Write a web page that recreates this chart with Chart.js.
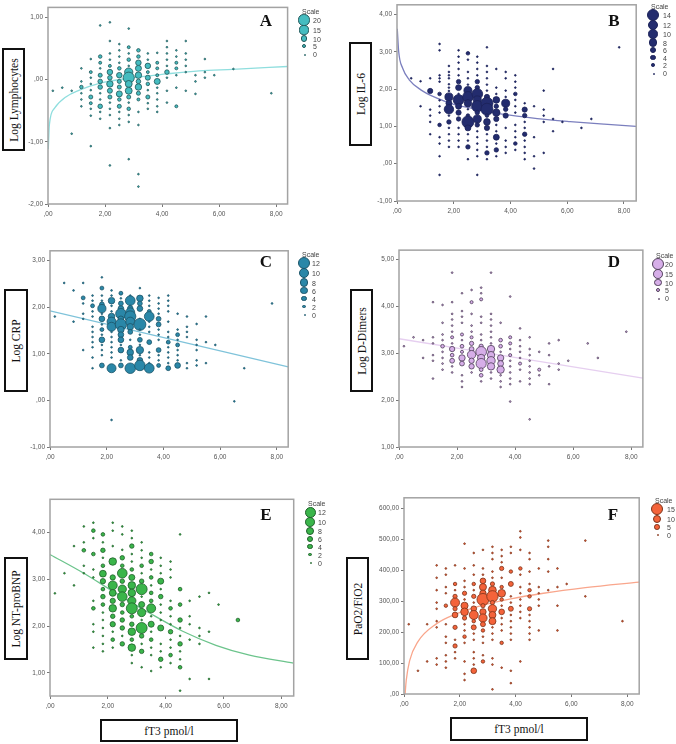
<!DOCTYPE html>
<html>
<head>
<meta charset="utf-8">
<title>fT3 scatter panels</title>
<script src="https://cdn.jsdelivr.net/npm/chart.js@4/dist/chart.umd.min.js"></script>
<style>
  html, body { margin: 0; padding: 0; background: #fff; }
  #page { position: relative; width: 676px; height: 744px; overflow: hidden; filter: blur(0.3px); }
  #page canvas { position: absolute; }
  .box { position: absolute; box-sizing: border-box; border: 2px solid #111; background: #fff; display: flex; align-items: center; justify-content: center; font: 11.5px "Liberation Serif", serif; color: #111; white-space: nowrap; }
  .box span.rot { transform: rotate(-90deg) scaleY(1.15); display: block; }
  .letter { position: absolute; font: bold 17px "Liberation Serif", serif; color: #111; transform: translate(-50%, -50%); }
  .lg { position: absolute; font: 7px "Liberation Sans", sans-serif; color: #444; transform: translateY(-50%); }
  .dot { position: absolute; border-radius: 50%; box-sizing: border-box; }
</style>
</head>
<body>
<div id="page"></div>
<script>
// every column: x first, then y values. a plain number is a single patient, [y, n] is n patients
var lymphoCols = [
  [0.17, -.18], [0.5, -.13], [0.83, -.18, -.87],
  [1.17, .18, -.03, [-.12,3], -.22, -.32, -.43],
  [1.5, .33, [.12,2], .03, -.07, -.17, [-.28,4], [-.38,2], -.47, -.58, -1.07],
  [1.83, .87, [.37,3], [.27,2], .18, [.07,4], [-.03,5], [-.12,5], -.22, -.32, [-.43,5], -.52, -.63],
  [2.17, .92, .62, .42, .32, [.22,2], [.12,7], [.03,5], [-.07,9], [-.18,6], [-.28,4], -.37, -.47, -.57, -.78, -1.38],
  [2.5, .57, .47, .37, .27, [.18,3], [.07,7], [-.03,4], [-.12,4], [-.23,8], [-.32,3], [-.43,4], -.52, -.63, -.73],
  [2.83, .82, [.52,2], .42, [.32,3], .22, [.12,13], [.03,20], [-.07,10], [-.18,10], [-.28,4], -.37, [-.47,3], -.57, -.68, -1.28],
  [3.17, [.47,3], [.37,3], [.27,7], [.18,8], [.07,9], [-.03,5], [-.12,9], [-.22,4], [-.32,2], -.52, -.73, -1.52, -1.72],
  [3.5, .42, .32, [.22,7], [.12,2], [.03,6], [-.07,3], -.17, [-.28,4], -.38, -.47],
  [3.83, .43, [.27,2], [.18,2], [.07,2], [-.03,8], -.13, -.22, -.32, -.43, -.52],
  [4.17, .62, .52, .42, .32, .22, [.12,5], .03, -.18, -.37],
  [4.5, .47, .37, [.27,2], [.18,2], .07, -.13, [-.43,2]],
  [4.83, .62, .42, .32, .22, .12, -.18],
  [5.17, .07, -.03, -.23], [5.5, .33, .12, .03], [5.83, .07], [6.5, .17], [7.83, -.22]
];
var il6Cols = [
  [0.5, 2.29], [0.83, 2.21, 1.54],
  [1.17, 2.29, [1.95,4], 1.45, 1.29, 1.12, .79],
  [1.5, 3.21, 3.04, 2.37, 2.29, 2.2, [1.87,2], 1.7, 1.54, 1.37, [1.04,2], .71, .54, .2, -.3],
  [1.83, 2.62, 2.46, 2.37, 2.29, 2.13, 2.04, 1.95, [1.79,8], [1.62,5], [1.46,10], 1.29, [1.12,3], .96, .79, .62, .45],
  [2.17, 3.04, 2.87, 2.71, 2.54, 2.37, [2.2,3], [2.04,5], 1.87, [1.71,12], [1.54,5], [1.37,4], [1.2,3], .96, .79, .62, .45],
  [2.5, [2.96,2], 2.79, 2.46, 2.29, 2.12, [1.96,8], [1.79,12], [1.62,7], 1.46, [1.29,2], [1.12,14], [.96,5], .79, .62, [.45,3], .12],
  [2.83, 2.87, 2.71, 2.54, 2.37, [2.2,3], [2.04,3], [1.87,12], [1.71,8], [1.54,13], [1.37,3], [1.2,8], [1.04,3], .87, .71, .54, .37, .2, -.3],
  [3.17, 3.12, 2.62, 2.46, 2.29, 2.12, 1.96, [1.79,4], [1.62,14], [1.46,14], [1.29,2], [1.12,6], [.96,4], .79, .62, .45, [.29,3], .12],
  [3.5, 2.54, 2.04, 1.87, [1.71,6], [1.54,3], [1.37,7], [1.2,4], 1.04, .87, [.71,5], .54, [.37,3], .2],
  [3.83, 2.46, 2.29, 1.96, 1.79, [1.62,8], [1.46,3], [1.29,4], .96, .62, .45, .29],
  [4.17, 2.37, 2.2, 2.04, [1.87,2], 1.71, 1.54, 1.37, 1.04, .87, .71, [.54,2], .37],
  [4.5, 1.62, [1.45,4], [1.29,3], 1.12, .96, [.79,3], .62, .45, .29, .12],
  [4.83, 1.54, .71, .2, -.13],
  [5.17, 1.96, 1.45, 1.29, 1.12, .29],
  [5.5, 2.54, 1.2, .87], [5.83, 1.12], [6.5, .96], [6.85, 1.2], [7.83, 3.12]
];
var crpCols = [
  [0.17, 1.8], [0.5, 2.52], [0.83, 2.36, 1.69],
  [1.17, 2.52, [2.2,2], 2.08, 1.86, 1.75, 1.08],
  [1.5, 2.25, 2.14, [2.03,2], 1.91, 1.8, 1.58, 1.47, 1.36, 1.25, 1.14, .92, .69],
  [1.83, 2.64, [2.41,2], 2.25, 2.14, [2.06,3], [1.97,7], 1.86, [1.75,4], 1.63, [1.52,2], 1.41, [1.3,4], 1.19, 1.08, .97, [.75,3]],
  [2.17, 2.36, 2.25, [2.14,5], 2.03, 1.91, [1.8,5], [1.69,8], [1.58,8], 1.47, 1.36, 1.25, 1.14, 1.03, .92, [.69,8], -.42],
  [2.5, [2.3,2], 2.19, [2.08,3], [1.97,4], [1.86,10], [1.75,4], [1.63,11], [1.52,5], [1.41,4], [1.3,4], 1.19, [1.08,4], .86, [.75,3]],
  [2.83, 2.25, [2.14,9], 2.03, [1.97,4], [1.89,8], [1.8,11], [1.69,8], [1.58,5], [1.47,3], 1.3, [1.14,2], [1.03,5], [.92,4], [.69,10]],
  [3.17, 2.41, [2.19,5], [2.08,3], [1.97,4], 1.75, [1.63,12], 1.52, 1.41, [1.3,3], 1.19, [1.08,6], .97, [.86,4], [.75,10]],
  [3.5, 2.25, 2.14, 2.03, [1.91,2], [1.8,9], 1.69, 1.58, 1.47, [1.25,3], 1.03, .92, .8, [.69,9]],
  [3.83, 2.2, 2.08, 1.97, 1.86, [1.75,3], [1.63,3], 1.52, 1.41, 1.3, [1.08,3], .97, .86, [.75,2]],
  [4.17, 2.25, 2.14, 2.03, 1.91, 1.69, 1.47, 1.36, [1.25,2], 1.14, 1.03, .92, .8, [.69,3]],
  [4.5, 1.86, 1.52, [1.41,2], 1.3, [1.19,2], 1.08, .97, .86, [.75,4]],
  [4.83, 1.8, 1.58, 1.47, 1.36, .8, .69],
  [5.17, 1.64, 1.3, 1.19, 1.08, .86, .75],
  [5.5, 1.8, 1.25, .8], [5.83, 1.19], [6.5, -.02], [6.85, .69], [7.83, 2.08]
];
var dimerCols = [
  [0.17, 3.15], [0.5, 3.34], [0.83, 3.28, 2.9],
  [1.17, 4.09, 3.34, 3.21, 2.96, 2.84, 2.46],
  [1.5, 4.03, 3.65, 3.4, 3.28, [3.15,3], 3.03, 2.9, 2.78, 2.65],
  [1.83, 4.72, 4.09, 3.84, 3.72, 3.59, 3.46, [3.34,2], 3.21, [3.09,6], [2.96,3], [2.84,5], 2.72, 2.59],
  [2.17, 4.28, 3.9, 3.78, 3.65, [3.4,2], 3.28, [3.15,3], [3.03,2], [2.9,8], [2.78,5], 2.53, 2.4, 2.28],
  [2.5, 4.35, [4.09,2], 3.84, 3.59, 3.46, [3.34,2], [3.21,4], [3.09,5], [2.97,12], [2.84,6], [2.72,6], 2.59],
  [2.83, 4.4, 4.28, [4.15,2], 3.78, 3.65, 3.4, 3.28, [3.15,4], [3.03,17], [2.9,10], [2.78,16], [2.65,3], [2.53,3], 2.4],
  [3.17, 4.72, 3.84, 3.72, 3.59, 3.46, 3.34, 3.21, [3.09,10], [2.96,10], [2.84,12], [2.72,10], 2.59, 2.46],
  [3.5, 3.65, [3.28,3], [3.15,3], 3.03, [2.9,8], [2.78,7], [2.65,10], 2.53, 2.4, 2.28],
  [3.83, 4.21, [3.34,2], [3.21,2], 3.09, [2.96,2], 2.84, 2.72, 2.59, 2.46, 2.34, 1.97],
  [4.17, 3.53, 3.28, 3.15, 3.03, 2.9, [2.78,2], 2.65, 2.4],
  [4.5, 3.34, 3.09, 2.96, 2.84, 2.72, 2.59, 2.46, 2.34, 1.59],
  [4.83, 3.03, [2.65,2], 2.53],
  [5.17, 3.21, 2.96, 2.72, 2.34],
  [5.5, 3.28, 2.78, 2.65], [5.83, 2.84], [6.5, 3.21], [6.85, 2.9], [7.83, 3.46]
];
var bnpCols = [
  [0.17, 2.7], [0.5, 3.13], [0.83, 3.71, 2.87],
  [1.17, 4.13, 3.79, [3.62,2], 3.29, 3.13],
  [1.5, 4.21, [4.04,2], 3.88, [3.54,2], 3.21, 3.04, 2.54, [2.38,2], 2.04, 1.88, 1.54],
  [1.83, [3.96,2], 3.79, [3.62,3], 3.46, [3.29,2], [3.12,6], [2.96,4], [2.79,2], [2.63,3], [2.46,2], 2.29, 2.13, 1.96, 1.79, 1.62, 1.46],
  [2.17, 4.21, 4.04, 3.71, [3.38,7], [3.04,4], [2.87,9], [2.71,6], [2.54,4], [2.38,7], [2.21,3], [2.04,4], 1.88, [1.71,2], 1.54],
  [2.5, 4.13, 3.96, 3.63, [3.46,3], [3.29,2], [3.13,10], [2.96,3], [2.79,8], [2.63,10], [2.46,3], [2.29,2], [2.13,3], [1.96,3], 1.79, [1.62,3]],
  [2.83, 4.04, 3.88, [3.71,3], 3.54, 3.38, [3.21,2], [3.04,5], [2.87,7], [2.71,7], [2.54,8], [2.38,12], [2.21,2], [2.04,3], [1.88,7], [1.71,2], [1.54,7], 1.38, 1.21],
  [3.17, 3.79, 3.62, 3.46, [3.29,2], 3.13, [2.96,3], [2.79,12], 2.63, [2.46,5], [2.29,8], 2.13, [1.96,12], [1.79,3], 1.62, [1.46,3], 1.12],
  [3.5, [3.54,2], [3.38,3], 3.21, [3.04,2], 2.87, [2.71,2], [2.54,2], [2.38,9], 2.21, [2.04,5], 1.88, [1.71,2], 1.54, 1.38, 1.04],
  [3.83, 3.46, 3.29, 3.13, [2.96,5], 2.79, [2.63,3], 2.46, 2.29, 2.13, [1.96,5], 1.62, 1.46, [1.29,3], 1.12],
  [4.17, 3.38, 3.21, 3.04, 2.54, [2.38,2], 2.21, 2.04, [1.88,3], 1.71, 1.54, [1.38,2], 1.21],
  [4.5, 3.96, [2.79,2], [2.46,2], [2.13,3], 1.96, 1.79, [1.62,3], 1.46, 1.29, [1.12,2], .62],
  [4.83, 2.54, 2.21, 2.04, 1.71, .87],
  [5.17, 2.63, 1.96, 1.79, 1.62],
  [5.5, 2.71, 1.88, .87], [5.83, 2.46], [6.5, [2.13,2]]
];
var pfCols = [
  [0.17, 225], [0.5, 75], [0.83, 225, 105],
  [1.17, 415, 375, 335, 295, 275, 235, 215, 115, 95],
  [1.5, 405, 385, 345, 325, [285,2], 225, 185, 165, 125, 105, 85],
  [1.83, 415, [355,2], 335, [315,3], [295,10], [275,3], [255,5], [215,3], 175, [155,3], 135, 115],
  [2.17, 485, 405, 365, 345, [325,3], 305, [285,7], [265,8], [245,3], 225, 205, [185,2], 165, 105, 65, 45],
  [2.5, 455, 415, 385, [355,2], 335, [315,3], 295, [275,5], [255,10], [235,2], [215,4], 195, 175, 135, 115, 95, [75,5]],
  [2.83, 465, 405, 385, [365,5], [345,7], [325,6], [305,15], [285,3], [265,6], [245,9], [225,4], [205,2], 185, 165, 125, [105,2]],
  [3.17, 475, 455, 435, 395, 375, [355,3], [335,8], [315,14], [295,3], [275,9], [255,7], [235,7], 215, 195, 175, 115, 95, 15],
  [3.5, 465, 445, 425, [405,3], 375, [345,2], [325,8], [305,2], 285, [265,5], 245, 225, 205, [165,2], 85],
  [3.83, 475, 455, [395,2], [355,4], 315, 295, [275,4], 255, 235, 215, 195, 175, 75, 35],
  [4.17, 525, 505, 465, [405,2], 385, 345, 325, 305, 285, 265, 245, 105],
  [4.5, 455, 435, 395, 355, [335,2], [315,2], [275,3], 255, 235, 215, 195, 175],
  [4.83, 405, 345, 325, 305, 285, 205],
  [5.17, 495, 475, 435, 395, 335],
  [5.5, 405, 345, 285, 205], [5.83, 355], [6.5, 495, 315], [7.83, 235]
];

// fit curves, [x, y]
var lymphoFit = [[.01,-1.12],[.05,-.72],[.23,-.46],[.64,-.275],[1.1,-.17],[1.8,-.06],[2.97,.03],[4.14,.09],[5.3,.14],[6.47,.165],[8.4,.21]];
var il6Fit = [[.01,3.62],[.06,3.0],[.2,2.56],[.43,2.25],[.84,1.98],[1.43,1.75],[2.0,1.59],[2.83,1.46],[3.77,1.32],[4.94,1.21],[6.1,1.13],[7.3,1.06],[8.43,1.0]];
var crpFit = [[0,1.92],[8.4,.72]];
var dimerFit = [[0,3.31],[8.4,2.47]];
var bnpFit = [[0,3.53],[1.14,3.14],[2.29,2.70],[3.44,2.28],[4.59,1.89],[5.74,1.59],[6.9,1.38],[8.43,1.21]];
var pfFit = [[.04,0],[.08,44],[.2,107],[.5,169],[1.17,227],[1.83,257],[2.83,287],[3.83,307],[5,325],[6.5,343],[8.43,361]];

var xTicks = [0, 2, 4, 6, 8];
var lymphoTicks = [1, 0, -1, -2];
var il6Ticks = [4, 3, 2, 1, 0, -1];
var crpTicks = [3, 2, 1, 0, -1];
var dimerTicks = [5, 4, 3, 2, 1];
var bnpTicks = [4, 3, 2, 1];
var pfTicks = [600, 500, 400, 300, 200, 100, 0];

var panels = [
  { letter:'A', cols:lymphoCols, fit:lymphoFit, ticks:lymphoTicks, scale:[20,15,10,5,0], rMax:5.6,
    plot:[48.3,4.7,288.7,203.5], xMax:8.4, yMin:-2, yMax:1.16, fill:'#45bcc0', edge:'#1f5557', line:'#8fdede',
    ylabel:'Log Lymphocytes', ybox:[1.5,48,25,151], letterAt:[266,21], lg:[304,313,[20,30,38.5,46,54],11] },
  { letter:'B', cols:il6Cols, fit:il6Fit, ticks:il6Ticks, scale:[14,12,10,8,6,4,2,0], rMax:6,
    plot:[397.3,2.3,637.3,201.7], xMax:8.43, yMin:-1, yMax:4.26, fill:'#232c6e', edge:'#1c2258', line:'#7b7fbe',
    ylabel:'Log IL-6', ybox:[348.7,42,372,146], letterAt:[614,21], lg:[653,663,[15,25,34,42.5,50,57.5,65,73],6] },
  { letter:'C', cols:crpCols, fit:crpFit, ticks:crpTicks, scale:[12,10,8,6,4,2,0], rMax:6,
    plot:[49.7,247.7,288.7,446.3], xMax:8.4, yMin:-1, yMax:3.21, fill:'#2a87a8', edge:'#1c5468', line:'#7fc3da',
    ylabel:'Log CRP', ybox:[4,289,28,392], letterAt:[266,262], lg:[304,312,[263,273,282.5,290.5,298.5,306.5,314.5],254] },
  { letter:'D', cols:dimerCols, fit:dimerFit, ticks:dimerTicks, scale:[20,15,10,5,0], rMax:6,
    plot:[399.3,247.7,643,446.7], xMax:8.4, yMin:1, yMax:5.2, fill:'#d6aee8', edge:'#4e3d58', line:'#e6cff0',
    ylabel:'Log D-Dimers', ybox:[350,289,373,392], letterAt:[614,262], lg:[658,665,[264,274,282.5,290,298],255] },
  { letter:'E', cols:bnpCols, fit:bnpFit, ticks:bnpTicks, scale:[12,10,8,6,4,2,0], rMax:5.5,
    plot:[50.3,496.7,294.7,695.3], xMax:8.43, yMin:.506, yMax:4.71, fill:'#3ab54a', edge:'#1f5f2a', line:'#6cc48c',
    ylabel:'Log NT-proBNP', ybox:[4,557,28,660], letterAt:[266,515], lg:[310,318,[512,522,531,539,546.5,554.5,562.5],503] },
  { letter:'F', cols:pfCols, fit:pfFit, ticks:pfTicks, scale:[15,10,5,0], rMax:6,
    plot:[404,495,640,694], xMax:8.43, yMin:0, yMax:633, fill:'#f4633a', edge:'#7a3219', line:'#f9a68c',
    ylabel:'PaO2/FiO2', ybox:[346,557,369,660], letterAt:[613,515], lg:[657,667,[509,519,527,534.5],500] }
];
var xBoxes = [[100,719,238,742],[450,717,588,741]];

var page = document.getElementById('page');

function tickText(v){
  var s = Number(v).toFixed(2).replace('.', ',');
  return s.replace(/^0,/, ',');
}

// bubble radius for a count, biggest key entry gets rMax. singles stay tiny
function radius(p, n){
  if (!n) return .5;
  if (n == 1) return .85;
  return .8 + (p.rMax - .8) * Math.pow(n / p.scale[0], .85);
}

var plotFrame = {
  id: 'plotFrame',
  afterDraw: function(chart){
    var a = chart.chartArea, c = chart.ctx;
    c.save();
    c.strokeStyle = '#a3a3a3';
    c.lineWidth = 1.5;
    c.strokeRect(a.left, a.top, a.right - a.left, a.bottom - a.top);
    c.restore();
  }
};

function addBox(r, text, rotated){
  var d = document.createElement('div');
  d.className = 'box';
  d.style.cssText = 'left:'+r[0]+'px;top:'+r[1]+'px;width:'+(r[2]-r[0])+'px;height:'+(r[3]-r[1])+'px';
  d.innerHTML = rotated ? '<span class="rot">'+text+'</span>' : '<span>'+text+'</span>';
  page.appendChild(d);
}

function drawPanel(p){
  var padL = 44, padT = 4, padR = 6, padB = 18;
  var w = p.plot[2] - p.plot[0], h = p.plot[3] - p.plot[1];
  var cv = document.createElement('canvas');
  cv.width = Math.round(w + padL + padR);
  cv.height = Math.round(h + padT + padB);
  cv.style.left = (p.plot[0] - padL) + 'px';
  cv.style.top = (p.plot[1] - padT) + 'px';
  page.appendChild(cv);

  var pts = [];
  p.cols.forEach(function(col){
    for (var i = 1; i < col.length; i++) {
      var e = col[i];
      var y = Array.isArray(e) ? e[0] : e, n = Array.isArray(e) ? e[1] : 1;
      pts.push({ x: col[0], y: y, r: radius(p, n) });
    }
  });

  new Chart(cv, {
    type: 'bubble',
    data: { datasets: [
      { type:'line', data: p.fit.map(function(q){ return {x:q[0], y:q[1]}; }), borderColor:p.line, borderWidth:1.3,
        pointRadius:0, cubicInterpolationMode:'monotone', order:2 },
      { data: pts, backgroundColor:p.fill, borderColor:p.edge, borderWidth:.8, order:1 }
    ]},
    plugins: [plotFrame],
    options: {
      responsive:false, animation:false, events:[],
      layout: { padding:{ top:padT, right:padR } },
      plugins: { legend:{display:false}, tooltip:{enabled:false} },
      scales: {
        x: { type:'linear', min:0, max:p.xMax, border:{display:false},
          grid:{ drawOnChartArea:false, tickLength:3, color:'#777' },
          afterBuildTicks:function(a){ a.ticks = xTicks.map(function(v){ return {value:v}; }); },
          afterFit:function(a){ a.height = padB; },
          ticks:{ autoSkip:false, maxRotation:0, padding:3, color:'#555', font:{family:'Liberation Sans', size:6.5}, callback:tickText } },
        y: { type:'linear', min:p.yMin, max:p.yMax, border:{display:false},
          grid:{ drawOnChartArea:false, tickLength:3, color:'#777' },
          afterBuildTicks:function(a){ a.ticks = p.ticks.map(function(v){ return {value:v}; }); },
          afterFit:function(a){ a.width = padL; },
          ticks:{ autoSkip:false, padding:2, color:'#555', font:{family:'Liberation Sans', size:6.5}, callback:tickText } }
      }
    }
  });

  addBox(p.ybox, p.ylabel, true);

  var l = document.createElement('div');
  l.className = 'letter';
  l.textContent = p.letter;
  l.style.left = p.letterAt[0] + 'px';
  l.style.top = p.letterAt[1] + 'px';
  page.appendChild(l);

  // size key
  var t = document.createElement('div');
  t.className = 'lg';
  t.textContent = 'Scale';
  t.style.left = (p.lg[0] - 2) + 'px';
  t.style.top = p.lg[3] + 'px';
  page.appendChild(t);
  p.scale.forEach(function(n, i){
    var r = radius(p, n), yy = p.lg[2][i];
    var d = document.createElement('div');
    d.className = 'dot';
    d.style.cssText = 'left:'+(p.lg[0]-r)+'px;top:'+(yy-r)+'px;width:'+(2*r)+'px;height:'+(2*r)+'px;background:'+p.fill+';border:.6px solid '+p.edge;
    page.appendChild(d);
    var s = document.createElement('div');
    s.className = 'lg';
    s.textContent = n;
    s.style.left = p.lg[1] + 'px';
    s.style.top = yy + 'px';
    page.appendChild(s);
  });
}

panels.forEach(drawPanel);
xBoxes.forEach(function(r){ addBox(r, 'fT3 pmol/l', false); });
</script>
</body>
</html>
